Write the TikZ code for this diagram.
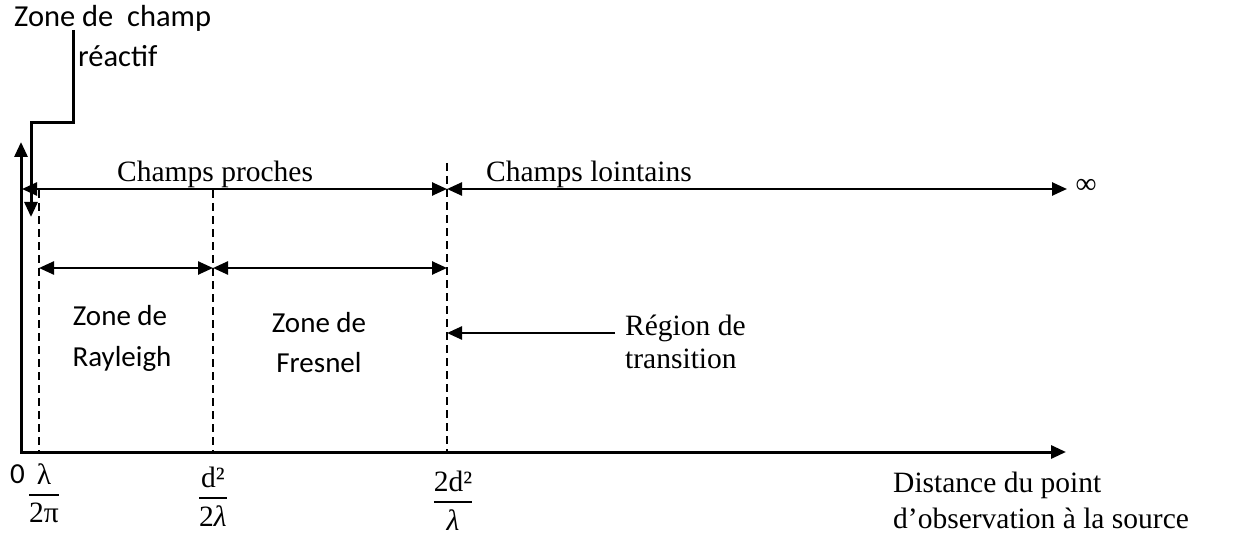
\documentclass[tikz,border=0pt]{standalone}
\usepackage{amsmath}
\usepackage{fontspec}
\setmainfont{Liberation Serif}
\newfontfamily\calib{Carlito}
\usetikzlibrary{arrows.meta}
\newcommand{\barfrac}[2]{$\genfrac{}{}{2.2pt}{0}{\mbox{#1}}{\mbox{#2}}$}
\begin{document}
\begin{tikzpicture}[x=1pt,y=-1pt,
  font=\fontsize{29.5}{34}\selectfont,
  tipA/.tip={Triangle[length=15pt,width=13pt]},
  axis/.style={line width=3pt,tipA-tipA},
  dimarrow/.style={line width=2.5pt,tipA-tipA},
  onearrow/.style={line width=2.5pt,-tipA},
  hook/.style={line width=3pt,-tipA},
  guide/.style={line width=2pt,dash pattern=on 8pt off 5pt},
  lbl/.style={inner sep=0pt},
  sanslbl/.style={inner sep=0pt,font=\calib\fontsize{29}{34}\selectfont},
  toplbl/.style={inner sep=0pt,font=\calib\fontsize{30.5}{34}\selectfont}]
\useasboundingbox (0,0) rectangle (1244,540);
% axes
\coordinate (O) at (21,452);
\coordinate (Ytop) at (21,142);
\coordinate (Xend) at (1066,452);
\draw[axis] (Ytop) -- (O) -- (Xend);
% dashed guides
\coordinate (l1t) at (39,190);  \coordinate (l1b) at (39,452);
\coordinate (l2t) at (213,190); \coordinate (l2b) at (213,452);
\coordinate (l3t) at (447,163); \coordinate (l3b) at (447,452);
\draw[guide] (l1t) -- (l1b);
\draw[guide] (l2t) -- (l2b);
\draw[guide] (l3t) -- (l3b);
% top arrows
\coordinate (a1) at (22,189);
\coordinate (a2) at (447,189);
\coordinate (a3) at (1067,189);
\draw[dimarrow] (a1) -- (a2);
\draw[dimarrow] (a2) -- (a3);
% second row arrows
\coordinate (b1) at (39,268);
\coordinate (b2) at (213,268);
\coordinate (b3) at (447,268);
\draw[dimarrow] (b1) -- (b2);
\draw[dimarrow] (b2) -- (b3);
% reactive zone connector
\coordinate (r0) at (73,30);
\coordinate (r1) at (73,123);
\coordinate (r2) at (31,123);
\coordinate (r3) at (31,217);
\draw[hook] (r0) -- (r1) -- (r2) -- (r3);
% transition arrow
\coordinate (t0) at (615,333);
\coordinate (t1) at (447,333);
\draw[onearrow] (t0) -- (t1);
% labels
\node[toplbl,anchor=base west] (zc) at (14,27) {Zone de\ \ champ};
\node[toplbl,anchor=base west] (re) at (78,67) {réactif};
\node[lbl,anchor=base west] (cp) at (117,182) {Champs proches};
\node[lbl,anchor=base west] (cl) at (486,182) {Champs lointains};
\node[lbl] (inf) at (1086,186) {∞};
\node[sanslbl,anchor=base] (zr1) at (120,325) {Zone de};
\node[sanslbl,anchor=base] (zr2) at (122,366) {Rayleigh};
\node[sanslbl,anchor=base] (zf1) at (319,332) {Zone de};
\node[sanslbl,anchor=base] (zf2) at (319,372) {Fresnel};
\node[lbl,anchor=base west] (rg1) at (625,335) {Région de};
\node[lbl,anchor=base west] (rg2) at (625,368) {transition};
\node[lbl,anchor=base west] (d1) at (893,492) {Distance du point};
\node[lbl,anchor=base west] (d2) at (893,528) {d’observation à la source};
\node[sanslbl,anchor=base west] (zero) at (10,483) {0};
\node[lbl,anchor=base] (f1) at (44,501) {\barfrac{λ}{2π}};
\node[lbl,anchor=base] (f2) at (213,504) {\barfrac{d²}{2\textit{λ}}};
\node[lbl,anchor=base] (f3) at (453,508) {\barfrac{2d²}{\textit{λ}}};
\end{tikzpicture}
\end{document}
